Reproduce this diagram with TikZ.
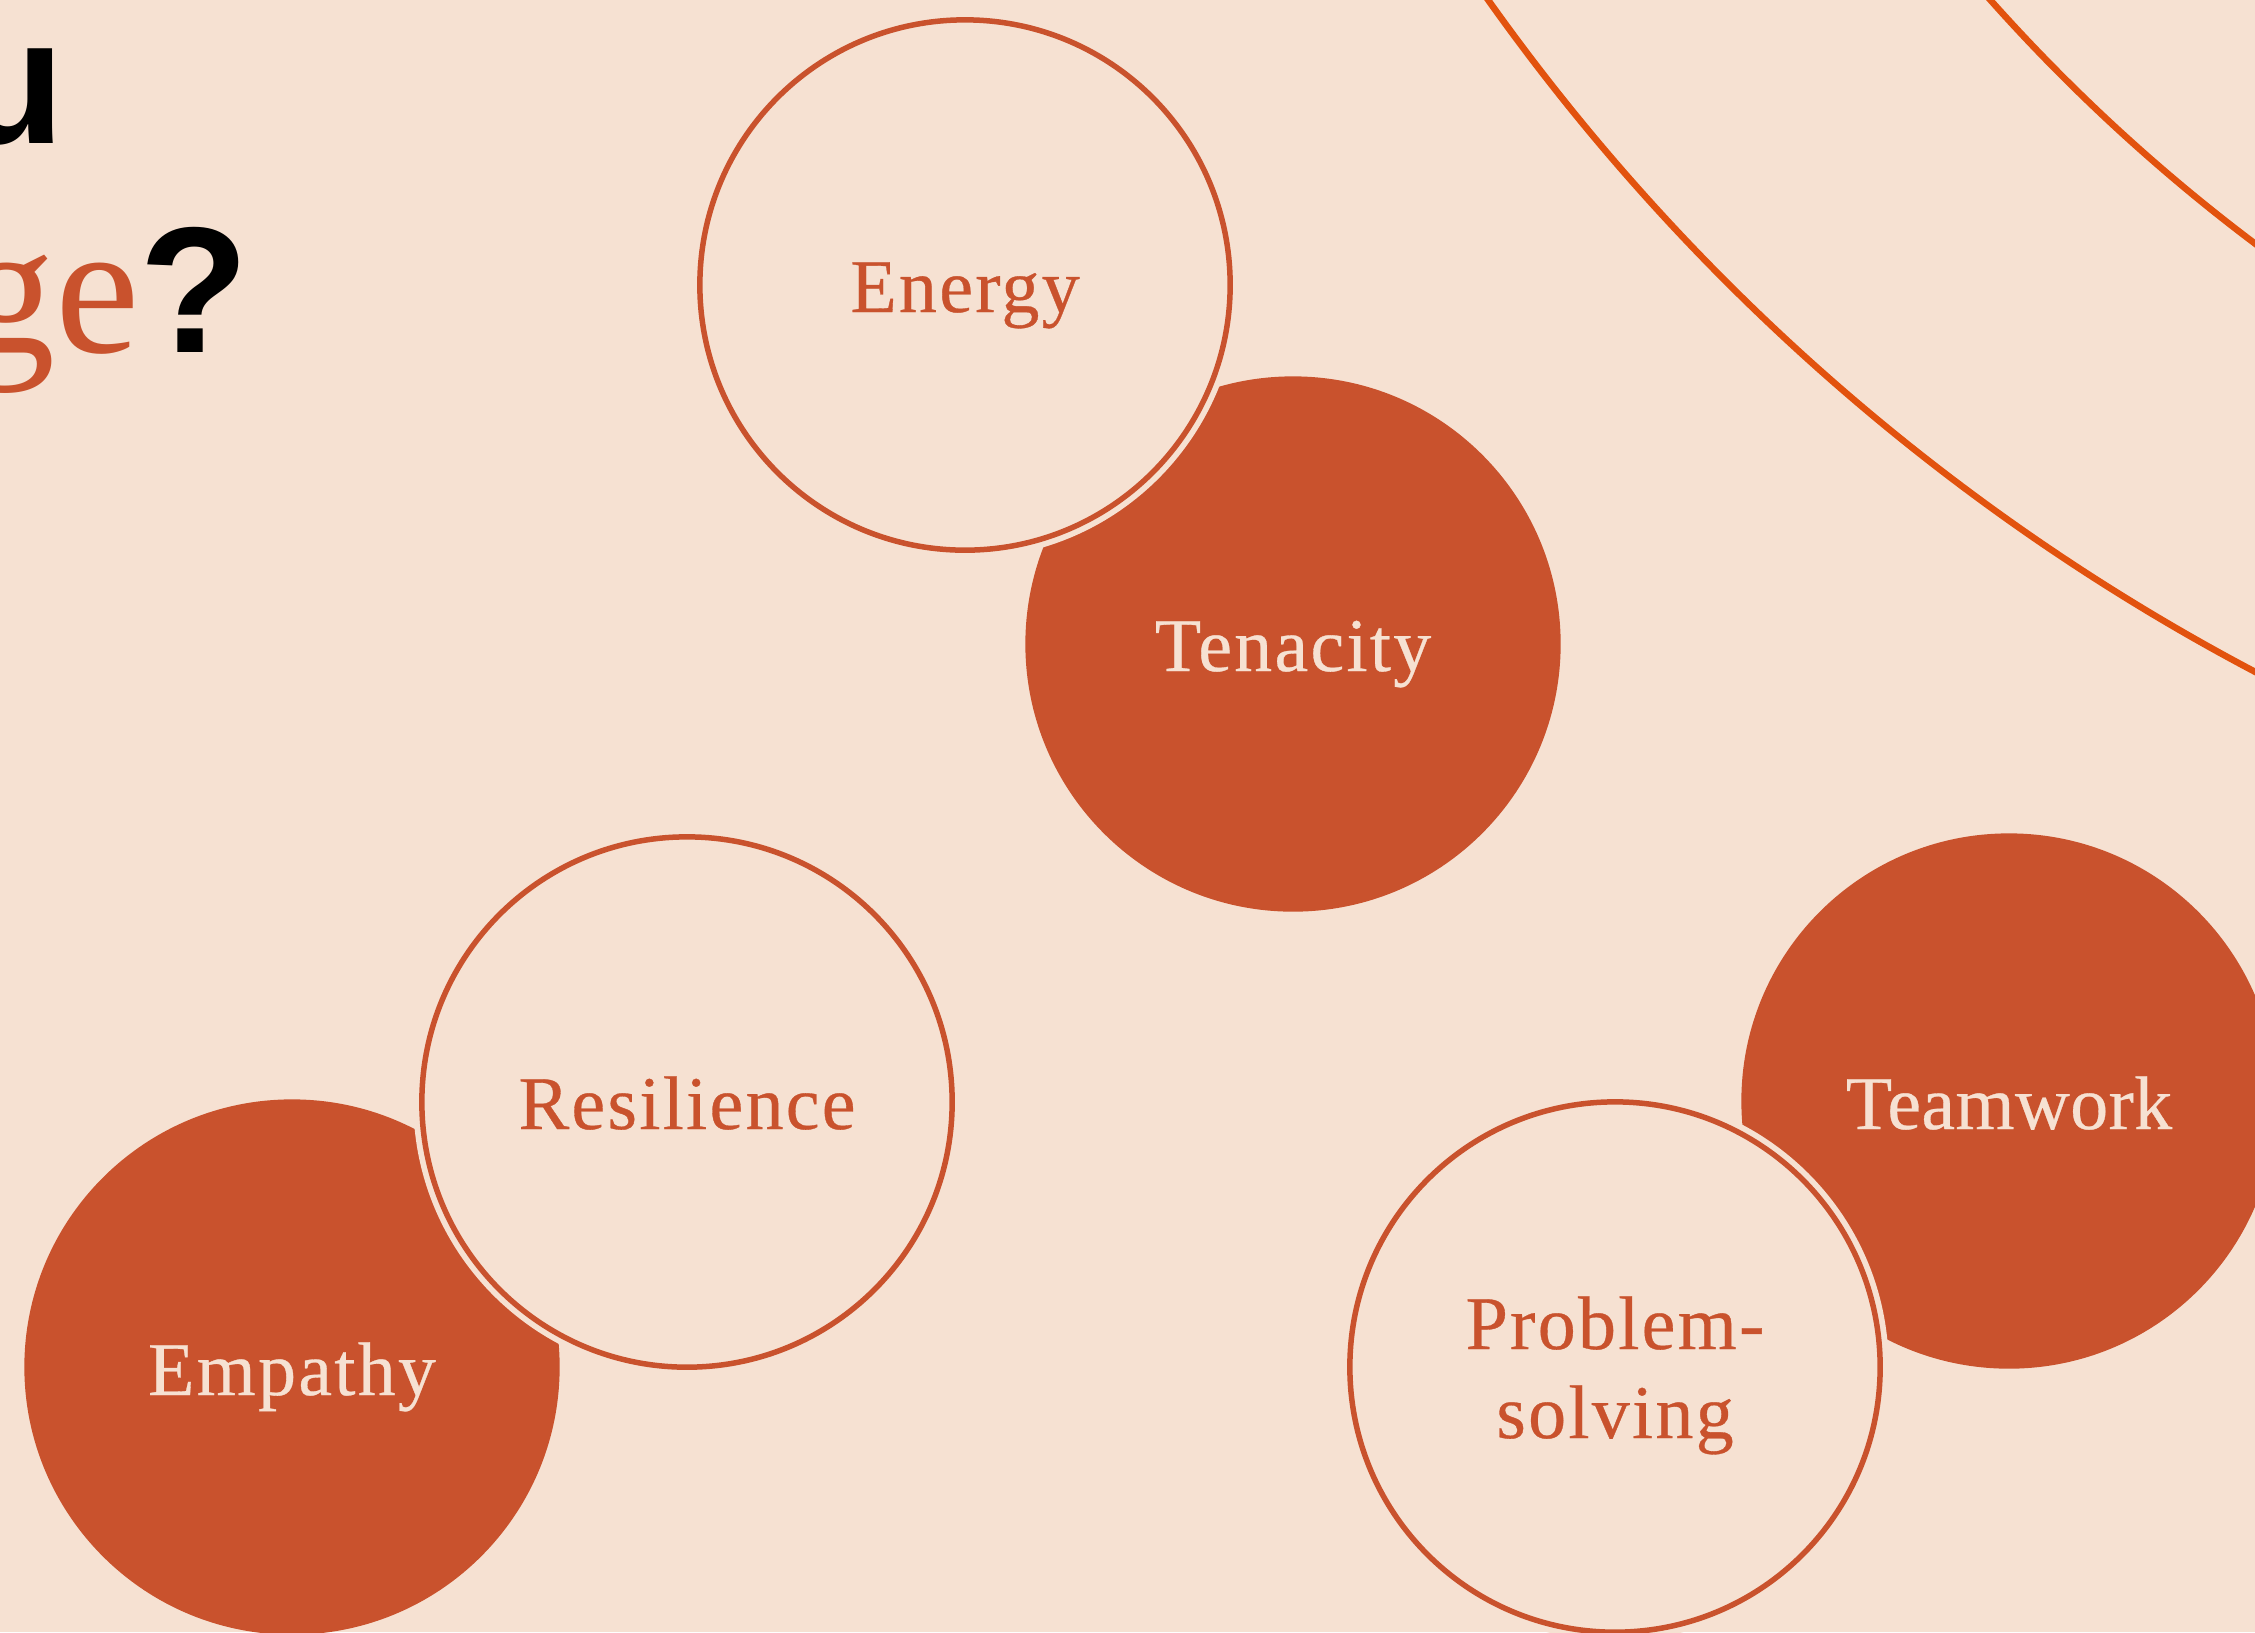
\documentclass[tikz,border=0pt]{standalone}
\usepackage{fontspec}
\usetikzlibrary{calc}
\newfontfamily\circfont[LetterSpace=3,FakeBold=0.4]{Liberation Serif}
\newfontfamily\circfontnarrow[LetterSpace=0.5,FakeBold=0.4]{Liberation Serif}
\newfontfamily\titleserif{Liberation Serif}
\newfontfamily\titlesans{Liberation Sans}
\definecolor{bg}{HTML}{F6E1D2}
\definecolor{terra}{HTML}{C9522D}
\definecolor{flame}{HTML}{E2520E}
\begin{document}
\begin{tikzpicture}[x=0.01cm,y=-0.01cm,
  filledc/.style={circle, fill=terra, minimum size=5.35cm, inner sep=0pt},
  outlinec/.style={circle, fill=bg, draw=terra, line width=0.055cm, minimum size=5.30cm, inner sep=0pt, preaction={draw=bg, line width=0.17cm}},
  lbl/.style={font=\circfont\fontsize{21.6pt}{25.3pt}\selectfont, inner sep=0pt, anchor=base},
  onfill/.style={lbl, text=bg},
  onoutline/.style={lbl, text=terra},
  arcline/.style={draw=flame, line width=0.065cm},
  titlesansf/.style={font=\titlesans\bfseries\fontsize{51pt}{60pt}\selectfont, inner sep=0pt, anchor=base east},
]
\useasboundingbox (0,0) rectangle (2255,1632);
\fill[bg] (0,0) rectangle (2255,1632);
\clip (0,0) rectangle (2255,1632);

% decorative arcs
\coordinate (outerarc) at (3275,-1267);
\coordinate (innerarc) at (3341.5,-1203);
\draw[arcline] (outerarc) circle[radius=21.89cm];
\draw[arcline] (innerarc) circle[radius=18.08cm];

% title fragments
\node[titlesansf] (titleA) at (66,143) {u};
\node[inner sep=0pt, anchor=base east] (titleB) at (250,352)
  {{\titleserif\fontsize{54pt}{60pt}\selectfont\color{terra}ge}{\titlesans\bfseries\fontsize{51pt}{60pt}\selectfont ?}};

% circles
\node[filledc] (tenacity) at (1293,644) {};
\node[outlinec] (energy) at (965,285) {};
\node[filledc] (empathy) at (292,1367) {};
\node[outlinec] (resilience) at (687,1102) {};
\node[filledc] (teamwork) at (2009,1101) {};
\node[outlinec] (problem) at (1615,1367) {};

% labels
\node[onoutline] (energyT) at ($(energy.center)+(0,27)$) {Energy};
\node[onfill] (tenacityT) at ($(tenacity.center)+(0,27)$) {Tenacity};
\node[onoutline] (resilienceT) at ($(resilience.center)+(0,27)$) {Resilience};
\node[onfill] (empathyT) at ($(empathy.center)+(0,28)$) {Empathy};
\node[onfill, font=\circfontnarrow\fontsize{21.6pt}{25.3pt}\selectfont] (teamworkT) at ($(teamwork.center)+(0,28)$) {Teamwork};
\node[onoutline] (problemT) at ($(problem.center)+(0,-18)$) {Problem-};
\node[onoutline] (problemT2) at ($(problem.center)+(0,71)$) {solving};
\end{tikzpicture}
\end{document}
